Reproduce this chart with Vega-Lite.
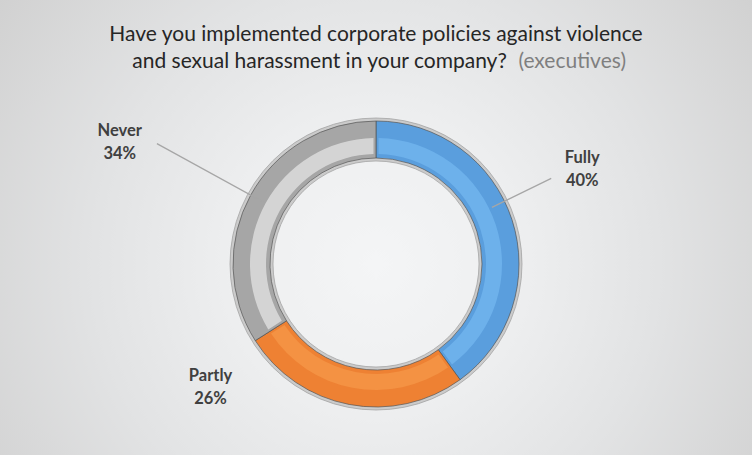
{
  "$schema": "https://vega.github.io/schema/vega-lite/v6.json",
  "width": 752,
  "height": 382,
  "autosize": "none",
  "padding": {"top": 73, "left": 0, "right": 0, "bottom": 0},
  "background": "#e4e4e5",
  "title": {
    "text": ["Have you implemented corporate policies against violence", "and sexual harassment in your company?\u00a0\u00a0\u00a0\u00a0\u00a0\u00a0\u00a0\u00a0\u00a0\u00a0\u00a0\u00a0\u00a0\u00a0\u00a0\u00a0\u00a0\u00a0\u00a0\u00a0\u00a0\u200b"],
    "subtitle": "\u200b\u00a0\u00a0\u00a0\u00a0\u00a0\u00a0\u00a0\u00a0\u00a0\u00a0\u00a0\u00a0\u00a0\u00a0\u00a0\u00a0\u00a0\u00a0\u00a0\u00a0\u00a0\u00a0\u00a0\u00a0\u00a0\u00a0\u00a0\u00a0\u00a0\u00a0\u00a0\u00a0\u00a0\u00a0\u00a0\u00a0\u00a0\u00a0\u00a0\u00a0\u00a0\u00a0\u00a0\u00a0\u00a0\u00a0\u00a0\u00a0\u00a0\u00a0\u00a0\u00a0\u00a0\u00a0\u00a0\u00a0\u00a0\u00a0\u00a0\u00a0\u00a0\u00a0\u00a0\u00a0\u00a0\u00a0\u00a0\u00a0\u00a0\u00a0\u00a0\u00a0\u00a0(executives)",
    "frame": "group",
    "anchor": "middle",
    "offset": 0,
    "dy": 278,
    "zindex": 1,
    "font": "Lato",
    "fontSize": 21,
    "fontWeight": "normal",
    "color": "#262626",
    "lineHeight": 27,
    "subtitleFont": "Lato",
    "subtitleFontSize": 21,
    "subtitleColor": "#7f7f7f",
    "subtitleLineHeight": 27,
    "subtitlePadding": -21
  },
  "data": {
    "values": [
      {"category": "Fully", "value": 0.40, "rank": 1},
      {"category": "Partly", "value": 0.26, "rank": 2},
      {"category": "Never", "value": 0.34, "rank": 3}
    ]
  },
  "layer": [
    {
      "data": {"values": [{"bg": "canvas"}]},
      "mark": {
        "type": "arc",
        "theta": 0,
        "theta2": 6.2832,
        "radius": 470,
        "color": {
          "gradient": "radial",
          "x1": 0.5, "y1": 0.5, "r1": 0,
          "x2": 0.5, "y2": 0.5, "r2": 0.5,
          "stops": [
            {"offset": 0, "color": "#f4f5f6"},
            {"offset": 0.3, "color": "#eeeff0"},
            {"offset": 0.6, "color": "#e2e3e4"},
            {"offset": 1, "color": "#d0d0d0"}
          ]
        }
      },
      "encoding": {}
    },
    {
      "data": {"values": [{"ring": "rim"}]},
      "mark": {
        "type": "arc",
        "theta": 0,
        "theta2": 6.2832,
        "radius": 103,
        "radius2": 146,
        "color": "#cbcbcb",
        "stroke": "#9c9c9c",
        "strokeWidth": 0.7
      },
      "encoding": {}
    },
    {
      "mark": {"type": "arc", "radius": 106, "radius2": 143, "stroke": "#555555", "strokeWidth": 0.7},
      "encoding": {
        "theta": {"field": "value", "type": "quantitative", "stack": true},
        "order": {"field": "rank", "type": "quantitative"},
        "color": {
          "field": "category",
          "type": "nominal",
          "scale": {"domain": ["Fully", "Partly", "Never"], "range": ["#5A9EDD", "#EE8133", "#A6A6A6"]},
          "legend": null
        }
      }
    },
    {
      "mark": {"type": "arc", "radius": 110, "radius2": 126, "padAngle": 0.03, "opacity": 0.9},
      "encoding": {
        "theta": {"field": "value", "type": "quantitative", "stack": true},
        "order": {"field": "rank", "type": "quantitative"},
        "color": {
          "field": "category",
          "type": "nominal",
          "scale": {"domain": ["Fully", "Partly", "Never"], "range": ["#6FB2EC", "#F49445", "#D9D9D9"]},
          "legend": null
        }
      }
    },
    {
      "mark": {
        "type": "arc",
        "padAngle": 3,
        "radius": 129,
        "radius2": {"expr": "datum.category === 'Never' ? 250 : 195"},
        "thetaOffset": {"expr": "datum.category === 'Fully' ? -0.14 : 0"},
        "fillOpacity": 0,
        "stroke": "#a6a6a6",
        "strokeWidth": 1.3,
        "strokeOpacity": {"expr": "datum.category === 'Partly' ? 0 : 1"}
      },
      "encoding": {
        "theta": {"field": "value", "type": "quantitative", "stack": true},
        "order": {"field": "rank", "type": "quantitative"},
        "detail": {"field": "category", "type": "nominal"}
      }
    },
    {
      "mark": {
        "type": "text",
        "radius": 200,
        "font": "Lato",
        "fontSize": 16.5,
        "fontWeight": "bold",
        "color": "#404040",
        "align": "center",
        "baseline": "middle",
        "dx": {"expr": "datum.category === 'Fully' ? 16 : datum.category === 'Partly' ? -128 : -81"},
        "dy": {"expr": "datum.category === 'Fully' ? -43.7 : datum.category === 'Partly' ? -84.5 : -37.1"}
      },
      "encoding": {
        "theta": {"field": "value", "type": "quantitative", "stack": true},
        "order": {"field": "rank", "type": "quantitative"},
        "detail": {"field": "category", "type": "nominal"},
        "text": {"field": "category", "type": "nominal"}
      }
    },
    {
      "mark": {
        "type": "text",
        "radius": 200,
        "font": "Lato",
        "fontSize": 16.5,
        "fontWeight": "bold",
        "color": "#404040",
        "align": "center",
        "baseline": "middle",
        "dx": {"expr": "datum.category === 'Fully' ? 16 : datum.category === 'Partly' ? -128 : -81"},
        "dy": {"expr": "datum.category === 'Fully' ? -20.7 : datum.category === 'Partly' ? -61.5 : -14.1"}
      },
      "encoding": {
        "theta": {"field": "value", "type": "quantitative", "stack": true},
        "order": {"field": "rank", "type": "quantitative"},
        "detail": {"field": "category", "type": "nominal"},
        "text": {"field": "value", "type": "quantitative", "format": ".0%"}
      }
    }
  ],
  "resolve": {"scale": {"color": "independent"}},
  "config": {"view": {"stroke": null}}
}
